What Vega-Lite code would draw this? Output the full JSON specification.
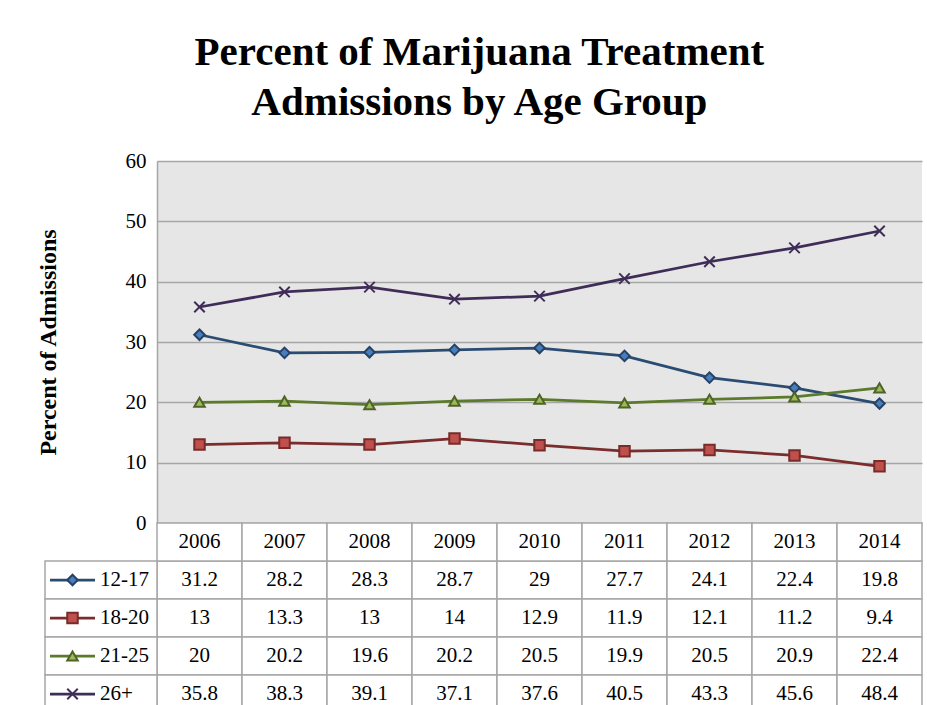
{
  "$schema": "https://vega.github.io/schema/vega-lite/v6.json",
  "padding": {"left": 36, "top": 32, "right": 0, "bottom": 0},
  "background": "white",
  "bounds": "flush",
  "config": {"view": {"stroke": null}, "font": "Liberation Serif", "concat": {"spacing": 0}},
  "title": {"text": ["Percent of Marijuana Treatment", "Admissions by Age Group"], "font": "Liberation Serif", "fontSize": 41, "fontWeight": "bold", "lineHeight": 50, "anchor": "middle", "color": "black", "offset": 26},
  "spacing": 0,
  "datasets": {
    "d": [
      {"series": "12-17", "year": "2006", "value": 31.2},
      {"series": "12-17", "year": "2007", "value": 28.2},
      {"series": "12-17", "year": "2008", "value": 28.3},
      {"series": "12-17", "year": "2009", "value": 28.7},
      {"series": "12-17", "year": "2010", "value": 29},
      {"series": "12-17", "year": "2011", "value": 27.7},
      {"series": "12-17", "year": "2012", "value": 24.1},
      {"series": "12-17", "year": "2013", "value": 22.4},
      {"series": "12-17", "year": "2014", "value": 19.8},
      {"series": "18-20", "year": "2006", "value": 13},
      {"series": "18-20", "year": "2007", "value": 13.3},
      {"series": "18-20", "year": "2008", "value": 13},
      {"series": "18-20", "year": "2009", "value": 14},
      {"series": "18-20", "year": "2010", "value": 12.9},
      {"series": "18-20", "year": "2011", "value": 11.9},
      {"series": "18-20", "year": "2012", "value": 12.1},
      {"series": "18-20", "year": "2013", "value": 11.2},
      {"series": "18-20", "year": "2014", "value": 9.4},
      {"series": "21-25", "year": "2006", "value": 20},
      {"series": "21-25", "year": "2007", "value": 20.2},
      {"series": "21-25", "year": "2008", "value": 19.6},
      {"series": "21-25", "year": "2009", "value": 20.2},
      {"series": "21-25", "year": "2010", "value": 20.5},
      {"series": "21-25", "year": "2011", "value": 19.9},
      {"series": "21-25", "year": "2012", "value": 20.5},
      {"series": "21-25", "year": "2013", "value": 20.9},
      {"series": "21-25", "year": "2014", "value": 22.4},
      {"series": "26+", "year": "2006", "value": 35.8},
      {"series": "26+", "year": "2007", "value": 38.3},
      {"series": "26+", "year": "2008", "value": 39.1},
      {"series": "26+", "year": "2009", "value": 37.1},
      {"series": "26+", "year": "2010", "value": 37.6},
      {"series": "26+", "year": "2011", "value": 40.5},
      {"series": "26+", "year": "2012", "value": 43.3},
      {"series": "26+", "year": "2013", "value": 45.6},
      {"series": "26+", "year": "2014", "value": 48.4}
    ]
  },
  "vconcat": [
    {
      "width": 765,
      "height": 362,
      "data": {"name": "d"},
      "view": {"fill": "#e6e6e6", "stroke": null},
      "encoding": {
        "x": {"field": "year", "type": "nominal", "scale": {"type": "band", "paddingInner": 0, "paddingOuter": 0}, "axis": null},
        "y": {"field": "value", "type": "quantitative", "scale": {"domain": [0, 60]},
          "axis": {"values": [0, 10, 20, 30, 40, 50, 60], "grid": true, "gridColor": "#a6a6a6", "gridWidth": 1.5, "domainColor": "#a6a6a6", "domainWidth": 1.5, "ticks": false, "labelFont": "Liberation Serif", "labelFontSize": 21, "labelColor": "black", "labelPadding": 11, "title": "Percent of Admissions", "titleFont": "Liberation Serif", "titleFontSize": 24, "titleFontWeight": "bold", "titleColor": "black", "titlePadding": 65}}
      },
      "layer": [
        {"mark": {"type": "line", "strokeWidth": 2.75},
          "encoding": {"color": {"field": "series", "type": "nominal", "scale": {"domain": ["12-17", "18-20", "21-25", "26+"], "range": ["#2b4c72", "#7b2c2c", "#5b7a2c", "#3f2d58"]}, "legend": null}}},
        {"mark": {"type": "point", "filled": true, "strokeWidth": 2, "opacity": 1, "size": 110},
          "encoding": {
            "shape": {"field": "series", "type": "nominal", "scale": {"domain": ["12-17", "18-20", "21-25", "26+"], "range": ["diamond", "square", "triangle-up", "M-1,-1L1,1M-1,1L1,-1"]}, "legend": null},
            "fill": {"field": "series", "type": "nominal", "scale": {"domain": ["12-17", "18-20", "21-25", "26+"], "range": ["#4a7ebb", "#c0504d", "#9bbb59", "#3f2d58"]}, "legend": null},
            "stroke": {"field": "series", "type": "nominal", "scale": {"domain": ["12-17", "18-20", "21-25", "26+"], "range": ["#254266", "#772c2a", "#4f6228", "#3f2d58"]}, "legend": null}
          }}
      ]
    },
    {
      "width": 765,
      "height": 190,
      "data": {"name": "d"},
      "encoding": {
        "x": {"field": "year", "type": "nominal", "scale": {"type": "band", "paddingInner": 0, "paddingOuter": 0}, "axis": null},
        "y": {"field": "series", "type": "nominal", "scale": {"type": "band", "domain": ["Year", "12-17", "18-20", "21-25", "26+"], "paddingInner": 0, "paddingOuter": 0}, "axis": null}
      },
      "layer": [
        {"mark": {"type": "rect", "fill": "white", "stroke": "#a6a6a6", "strokeWidth": 1.5}},
        {"transform": [{"filter": "datum.series == '12-17'"}],
          "mark": {"type": "rect", "fill": "white", "stroke": "#a6a6a6", "strokeWidth": 1.5},
          "encoding": {"y": {"datum": "Year"}}},
        {"transform": [{"filter": "datum.year == '2006'"}],
          "mark": {"type": "rect", "fill": "white", "stroke": "#a6a6a6", "strokeWidth": 1.5, "width": 112, "xOffset": -98.5}},
        {"transform": [{"filter": "datum.year == '2006'"}],
          "mark": {"type": "rect", "width": 45, "height": 2.75, "xOffset": -127},
          "encoding": {"color": {"field": "series", "type": "nominal", "scale": {"domain": ["12-17", "18-20", "21-25", "26+"], "range": ["#2b4c72", "#7b2c2c", "#5b7a2c", "#3f2d58"]}, "legend": null}}},
        {"transform": [{"filter": "datum.year == '2006'"}],
          "mark": {"type": "point", "filled": true, "strokeWidth": 2, "opacity": 1, "size": 110, "xOffset": -127},
          "encoding": {
            "shape": {"field": "series", "type": "nominal", "scale": {"domain": ["12-17", "18-20", "21-25", "26+"], "range": ["diamond", "square", "triangle-up", "M-1,-1L1,1M-1,1L1,-1"]}, "legend": null},
            "fill": {"field": "series", "type": "nominal", "scale": {"domain": ["12-17", "18-20", "21-25", "26+"], "range": ["#4a7ebb", "#c0504d", "#9bbb59", "#3f2d58"]}, "legend": null},
            "stroke": {"field": "series", "type": "nominal", "scale": {"domain": ["12-17", "18-20", "21-25", "26+"], "range": ["#254266", "#772c2a", "#4f6228", "#3f2d58"]}, "legend": null}
          }},
        {"transform": [{"filter": "datum.year == '2006'"}],
          "mark": {"type": "text", "align": "left", "dx": -99.5, "fontSize": 21, "font": "Liberation Serif", "color": "black"},
          "encoding": {"text": {"field": "series", "type": "nominal"}}},
        {"mark": {"type": "text", "fontSize": 21, "font": "Liberation Serif", "color": "black"},
          "encoding": {"text": {"field": "value", "type": "nominal"}}},
        {"transform": [{"filter": "datum.series == '12-17'"}],
          "mark": {"type": "text", "fontSize": 21, "font": "Liberation Serif", "color": "black"},
          "encoding": {"y": {"datum": "Year"}, "text": {"field": "year", "type": "nominal"}}}
      ]
    }
  ]
}
